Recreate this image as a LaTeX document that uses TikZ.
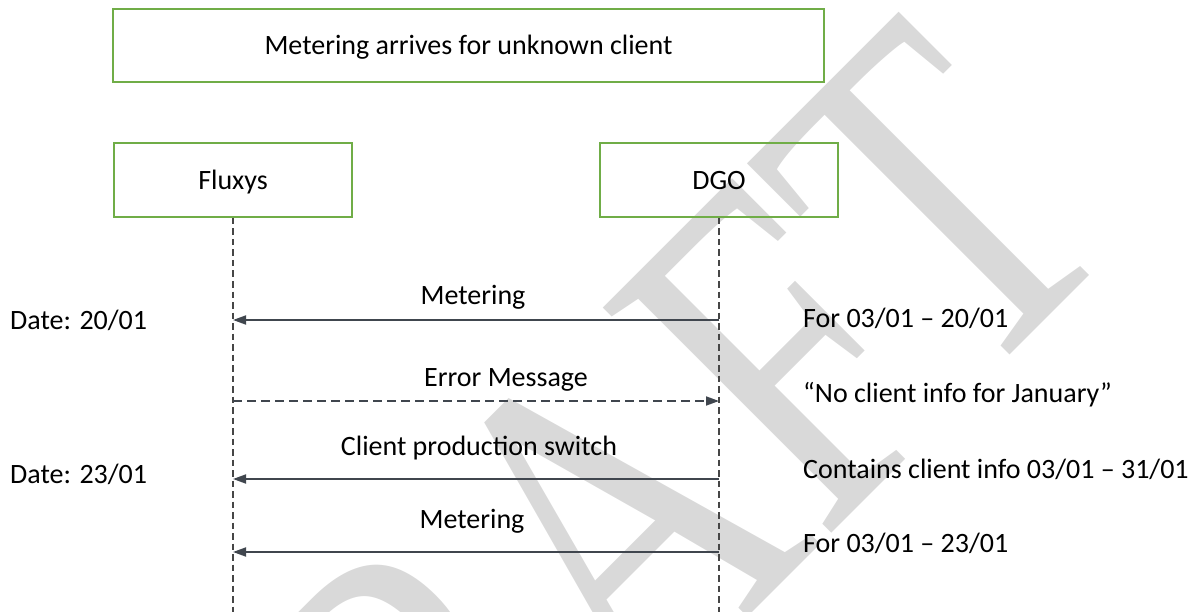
\documentclass[tikz,border=0pt]{standalone}
\usepackage{fontspec}
\setmainfont{Carlito}
\newfontfamily\wmfont{Liberation Serif}
\usetikzlibrary{arrows.meta}
\definecolor{boxgreen}{RGB}{112,173,71}
\definecolor{arrowgray}{RGB}{64,70,78}
\definecolor{lifegray}{RGB}{70,70,70}
\definecolor{wmgray}{RGB}{217,217,217}
\begin{document}
\begin{tikzpicture}[x=1pt,y=-1pt,
  box/.style={draw=boxgreen,line width=2pt,minimum width=238pt,minimum height=74pt,
    inner sep=0pt,font=\fontsize{28}{34}\selectfont,text height=18.5pt,text depth=0pt},
  txt/.style={font=\fontsize{28}{34}\selectfont,inner sep=0pt,anchor=base},
  note/.style={txt,anchor=base west},
  life/.style={draw=lifegray,line width=1.2pt,dash pattern=on 6.5pt off 4pt},
  msg/.style={draw=arrowgray,line width=1.8pt,-{Triangle[length=13pt,width=9pt]}},
  reply/.style={msg,dash pattern=on 9pt off 5pt},
]
\useasboundingbox (0,0) rectangle (1204,612);
\begin{scope}
  \clip (0,0) rectangle (1204,612);
  \node[font=\wmfont\fontsize{490}{490}\selectfont,text=wmgray,inner sep=0pt,
    anchor=base west,rotate=45,xscale=0.76] (wm) at (267,1098) {DRAFT};
\end{scope}

\node[box,minimum width=711pt,minimum height=73pt] (title) at (468.5,45.5) {Metering arrives for unknown client};
\node[box] (fluxys) at (233,180) {Fluxys};
\node[box] (dgo) at (719,180) {DGO};

\coordinate (fend) at (233,612);
\coordinate (dend) at (719,612);
\draw[life] (fluxys.south) -- (fend);
\draw[life] (dgo.south) -- (dend);

\coordinate (f1) at (233,320); \coordinate (d1) at (719,320);
\coordinate (f2) at (233,401); \coordinate (d2) at (719,401);
\coordinate (f3) at (233,479); \coordinate (d3) at (719,479);
\coordinate (f4) at (233,552); \coordinate (d4) at (719,552);

\draw[msg] (d1) -- (f1);
\draw[reply] (f2) -- (d2);
\draw[msg] (d3) -- (f3);
\draw[msg] (d4) -- (f4);

\node[txt] (m1) at (473,304) {Metering};
\node[txt] (m2) at (506,386) {Error Message};
\node[txt] (m3) at (479,455) {Client production switch};
\node[txt] (m4) at (472,528) {Metering};

\node[note] (date1) at (10,329) {Date: 20/01};
\node[note] (date2) at (10,483) {Date: 23/01};

\node[note] (n1) at (803,327) {For 03/01 – 20/01};
\node[note] (n2) at (803,402) {“No client info for January”};
\node[note] (n3) at (803,478) {Contains client info 03/01 – 31/01};
\node[note] (n4) at (803,552) {For 03/01 – 23/01};
\end{tikzpicture}
\end{document}
